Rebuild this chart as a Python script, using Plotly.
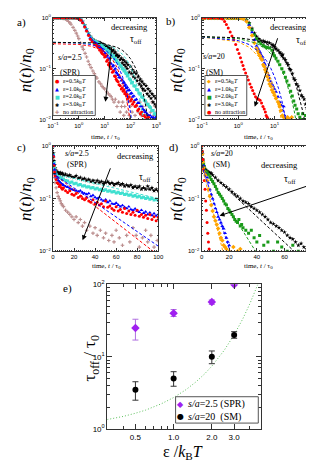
import math
import plotly.graph_objects as go

W, H = 314, 465
SERIF = "Liberation Serif"
SANS = "Liberation Sans"

# ---------------- Panel a: s/a=2.5 (SPR), log-log ----------------
A_EPS05 = [(0.1,1),(0.12,1),(0.15,1),(0.18,1),(0.22,1),(0.27,1),(0.33,1),(0.4,1),(0.5,1),(0.6,1),(0.7,1),(0.85,0.99),(1.0,0.96),(1.2,0.9),(1.4,0.8),(1.7,0.66),(2.0,0.55),(2.4,0.45),(2.8,0.38),(3.3,0.34),(4.0,0.31),
           (4.5,0.3),(5,0.28),(5.5,0.26),(6,0.27),(6.5,0.23),(7,0.24),(7.5,0.21),(8,0.2),(9,0.19),(10,0.17),(11,0.18),(12,0.14),(13,0.15),(14,0.12),(15,0.13),(16,0.11),(18,0.1),(20,0.085),(22,0.09),(24,0.072),(26,0.07),(28,0.062),(30,0.058),(33,0.055),(36,0.048),(40,0.046),(44,0.04),(48,0.042),(52,0.036),(56,0.038),(60,0.032),(65,0.034),(70,0.029),(75,0.031),(80,0.026),(90,0.028),(100,0.023),(110,0.025),(120,0.02),(135,0.022),(150,0.018),(170,0.019),(190,0.015),(210,0.016),(240,0.013),(270,0.014),(300,0.012),(340,0.012),(380,0.011),(430,0.01),(500,0.011)]
A_EPS10 = [(0.1,1),(0.12,1),(0.15,1),(0.18,1),(0.22,1),(0.27,1),(0.33,1),(0.4,1),(0.5,1),(0.6,1),(0.7,1),(0.85,0.99),(1.0,0.97),(1.2,0.91),(1.4,0.82),(1.7,0.68),(2.0,0.57),(2.4,0.47),(2.8,0.4),(3.3,0.36),(4.0,0.33),
           (4.5,0.32),(5,0.31),(5.5,0.29),(6,0.28),(6.5,0.27),(7,0.25),(7.5,0.25),(8,0.23),(9,0.22),(10,0.2),(11,0.2),(12,0.17),(13,0.18),(14,0.15),(15,0.16),(16,0.13),(18,0.125),(20,0.11),(22,0.115),(24,0.095),(26,0.1),(28,0.085),(30,0.08),(33,0.075),(36,0.068),(40,0.066),(44,0.058),(48,0.06),(52,0.052),(56,0.054),(60,0.046),(65,0.048),(70,0.041),(75,0.043),(80,0.037),(90,0.038),(100,0.032),(110,0.033),(120,0.028),(135,0.029),(150,0.024),(170,0.025),(190,0.021),(210,0.021),(240,0.018),(270,0.018),(300,0.016),(340,0.015),(380,0.014),(430,0.013),(500,0.012),(570,0.012),(650,0.011),(750,0.011),(850,0.01),(950,0.011)]
A_EPS20 = [(0.1,1),(0.12,1),(0.15,1),(0.18,1),(0.22,1),(0.27,1),(0.33,1),(0.4,1),(0.5,1),(0.6,1),(0.7,1),(0.85,0.99),(1.0,0.97),(1.2,0.92),(1.4,0.83),(1.7,0.7),(2.0,0.59),(2.4,0.49),(2.8,0.42),(3.3,0.38),(4.0,0.35),
           (4.5,0.34),(5,0.33),(5.5,0.32),(6,0.31),(6.5,0.3),(7,0.29),(7.5,0.28),(8,0.28),(9,0.26),(10,0.25),(11,0.25),(12,0.23),(13,0.23),(14,0.21),(15,0.22),(16,0.2),(18,0.19),(20,0.17),(22,0.18),(24,0.155),(26,0.16),(28,0.14),(30,0.145),(33,0.13),(36,0.125),(40,0.115),(44,0.11),(48,0.1),(52,0.1),(56,0.09),(60,0.092),(65,0.082),(70,0.08),(75,0.072),(80,0.074),(90,0.063),(100,0.06),(110,0.052),(120,0.054),(135,0.046),(150,0.045),(170,0.039),(190,0.038),(210,0.033),(240,0.032),(270,0.028),(300,0.027),(340,0.024),(380,0.023),(430,0.02),(480,0.02),(540,0.018),(600,0.017),(670,0.015),(750,0.015),(830,0.013),(920,0.013),(1000,0.012)]
A_EPS30 = [(0.1,1),(0.12,1),(0.15,1),(0.18,1),(0.22,1),(0.27,1),(0.33,1),(0.4,1),(0.5,1),(0.6,1),(0.7,1),(0.85,1),(1.0,0.98),(1.2,0.93),(1.4,0.85),(1.7,0.72),(2.0,0.6),(2.4,0.5),(2.8,0.43),(3.3,0.39),(4.0,0.36),
           (5,0.34),(5.5,0.33),(6,0.33),(6.5,0.32),(7,0.32),(7.5,0.31),(8,0.3),(9,0.3),(10,0.29),(11,0.28),(12,0.27),(13,0.27),(14,0.25),(15,0.26),(16,0.24),(18,0.23),(20,0.22),(22,0.23),(24,0.2),(26,0.21),(28,0.18),(30,0.19),(33,0.17),(36,0.18),(40,0.15),(44,0.16),(48,0.13),(52,0.15),(56,0.12),(60,0.14),(65,0.11),(70,0.13),(75,0.1),(80,0.12),(90,0.085),(100,0.11),(110,0.08),(120,0.095),(130,0.07),(140,0.085),(150,0.065),(165,0.08),(180,0.058),(200,0.07),(220,0.05),(240,0.062),(260,0.045),(280,0.056),(300,0.04),(330,0.05),(360,0.037),(400,0.046),(440,0.032),(480,0.04),(520,0.029),(570,0.036),(620,0.026),(680,0.032),(740,0.022),(800,0.029),(870,0.02),(940,0.026),(1000,0.018)]
A_NOATT = [(0.1,1),(0.15,1),(0.2,1),(0.25,0.98),(0.3,0.95),(0.35,0.9),(0.4,0.85),(0.45,0.8),(0.5,0.75),(0.6,0.65),(0.7,0.57),(0.8,0.5),(0.9,0.44),(1.0,0.39),(1.17,0.32),(1.35,0.27),(1.5,0.24),(1.75,0.2),(2,0.17),(2.3,0.14),(2.6,0.12),(3,0.105),(3.5,0.09),(4,0.08),(4.5,0.07),(5,0.065),(6,0.055),(7,0.05),(8,0.045),(9,0.042),(10,0.04),(12,0.035),(14,0.032),(16,0.03),(18,0.028),(20,0.025),(23,0.022),(26,0.025),(30,0.018),(35,0.022),(40,0.014),(45,0.018),(50,0.022),(55,0.012),(60,0.018),(70,0.014),(80,0.022),(90,0.012),(100,0.018),(115,0.014),(130,0.022),(150,0.012),(170,0.018),(200,0.014),(230,0.022),(260,0.012),(300,0.018),(350,0.014),(400,0.022),(460,0.012),(530,0.018),(600,0.014),(700,0.022),(800,0.012),(900,0.018),(1000,0.014)]
A_FIT05 = [(0.1,0.31),(1,0.30),(3,0.278),(10,0.217),(20,0.152),(30,0.106),(50,0.052),(70,0.0254),(100,0.0087),(150,0.0015)]
A_FIT10 = [(0.1,0.33),(1,0.32),(3,0.30),(10,0.24),(20,0.175),(30,0.128),(50,0.068),(70,0.036),(100,0.0138),(150,0.0028)]
A_FIT20 = [(0.1,0.33),(1,0.326),(3,0.319),(10,0.296),(20,0.265),(30,0.237),(50,0.19),(70,0.153),(100,0.11),(150,0.064),(200,0.0367),(300,0.0122),(400,0.0041)]
A_FIT30 = [(0.1,0.33),(1,0.328),(3,0.323),(10,0.306),(30,0.264),(50,0.228),(70,0.196),(100,0.157),(150,0.108),(200,0.075),(300,0.036),(400,0.017),(500,0.0081),(700,0.0018)]

# ---------------- Panel b: s/a=20 (SM), log-log ----------------
B_EPS05 = [(0.1,1),(0.12,1),(0.15,1),(0.18,1),(0.22,1),(0.27,1),(0.33,1),(0.4,1),(0.5,1),(0.6,1),(0.7,1),(0.85,1),(1.0,1),(1.2,0.99),(1.4,0.95),
           (1.7,0.85),(2.0,0.65),(2.4,0.45),(2.8,0.32),(3.2,0.25),(3.5,0.22),(3.7,0.2),(4.0,0.18),(4.2,0.16),(4.5,0.15),(4.9,0.12),(5.2,0.11),(5.5,0.095),(5.9,0.085),(6.3,0.07),(6.8,0.06),(7.3,0.05),(7.9,0.045),(8.5,0.038),(9.2,0.034),(10,0.03),(11,0.026),(12.5,0.022),(13.5,0.02),(14,0.018),(15,0.015),(16.5,0.012),(18,0.011),(20,0.01),(23,0.011),(26,0.01),(30,0.011)]
B_EPS10 = [(0.1,1),(0.12,1),(0.15,1),(0.18,1),(0.22,1),(0.27,1),(0.33,1),(0.4,1),(0.5,1),(0.6,1),(0.7,1),(0.85,1),(1.0,1),(1.2,0.99),(1.4,0.96),
           (1.7,0.88),(2.0,0.72),(2.4,0.52),(2.8,0.37),(3.2,0.28),(3.5,0.25),(3.7,0.23),(4.0,0.21),(4.2,0.19),(4.5,0.17),(4.9,0.15),(5.2,0.13),(5.5,0.12),(5.9,0.1),(6.3,0.085),(6.8,0.075),(7.3,0.065),(7.9,0.056),(8.5,0.05),(9.2,0.045),(10,0.04),(11,0.035),(12.5,0.028),(14,0.022),(15.5,0.019),(17,0.015),(18,0.018),(19,0.012),(21,0.01),(23,0.011),(25,0.01)]
B_EPS20 = [(0.1,1),(0.12,1),(0.15,1),(0.18,1),(0.22,1),(0.27,1),(0.33,1),(0.4,1),(0.5,1),(0.6,1),(0.7,1),(0.85,1),(1.0,1),(1.2,0.99),(1.4,0.97),
           (1.7,0.9),(2.0,0.76),(2.4,0.58),(2.8,0.46),(3.2,0.39),(3.7,0.34),(4.2,0.31),(4.9,0.285),(5.5,0.27),(6.3,0.26),(7.3,0.255),(8.5,0.23),(9.2,0.2),(10,0.18),(11,0.16),(12.5,0.14),(14,0.12),(16,0.1),(18,0.085),(20,0.068),(22,0.057),(25,0.047),(28,0.036),(31,0.029),(34,0.023),(37,0.019),(41,0.016),(45,0.013),(50,0.011),(55,0.01),(60,0.013),(66,0.01),(72,0.012),(80,0.01),(90,0.011)]
B_EPS30 = [(0.1,1),(0.12,1),(0.15,1),(0.18,1),(0.22,1),(0.27,1),(0.33,1),(0.4,1),(0.5,1),(0.6,1),(0.7,1),(0.85,1),(1.0,1),(1.2,0.99),(1.4,0.97),
           (1.7,0.92),(2.0,0.8),(2.4,0.62),(2.8,0.5),(3.2,0.43),(3.7,0.39),(4.2,0.36),(4.9,0.35),(5.5,0.34),(6.3,0.33),(7.3,0.32),(8.5,0.3),(9.2,0.29),(10,0.27),(11,0.25),(12.5,0.23),(14,0.21),(15,0.2),(16,0.18),(17,0.19),(18,0.16),(20,0.15),(22,0.13),(24,0.12),(26,0.1),(28,0.095),(31,0.08),(34,0.065),(37,0.06),(41,0.05),(45,0.045),(50,0.037),(55,0.03),(60,0.028),(66,0.025),(72,0.02),(78,0.017),(85,0.015),(92,0.013),(100,0.012)]
B_NOATT = [(0.1,1),(0.12,1),(0.15,1),(0.18,1),(0.22,1),(0.27,1),(0.3,1),(0.33,0.99),(0.37,0.95),(0.42,0.85),(0.47,0.74),(0.53,0.63),(0.6,0.53),(0.67,0.44),(0.75,0.37),(0.85,0.3),(0.95,0.24),(1.05,0.2),(1.15,0.165),(1.25,0.135),(1.35,0.115),(1.45,0.097),(1.6,0.082),(1.75,0.07),(1.9,0.06),(2.1,0.05),(2.3,0.043),(2.5,0.037),(2.75,0.032),(3.0,0.028),(3.3,0.026),(3.6,0.025),(4.0,0.024),(4.4,0.021),(4.8,0.018),(5.2,0.016),(5.6,0.014),(5.9,0.012),(6.3,0.011),(6.8,0.01)]
B_FIT05 = [(0.1,0.42),(1,0.338),(2,0.264),(4,0.162),(6,0.0995),(8,0.061),(10,0.0374),(12,0.023),(14,0.0141),(16,0.0087),(18,0.0053)]
B_FIT10 = [(0.1,0.422),(1,0.358),(2,0.299),(4,0.208),(6,0.144),(8,0.1),(10,0.0697),(13,0.0405),(16,0.0234),(20,0.0113),(24,0.0055)]
B_FIT20 = [(0.1,0.426),(1,0.391),(3,0.322),(6,0.241),(10,0.164),(15,0.102),(20,0.0628),(25,0.0389),(30,0.024),(35,0.0148),(40,0.0092),(50,0.0035)]
B_FIT30 = [(0.1,0.428),(1,0.406),(3,0.363),(6,0.306),(10,0.245),(15,0.185),(20,0.14),(30,0.0796),(40,0.0453),(50,0.0258),(60,0.0147),(70,0.0084),(80,0.0048)]

# ---------------- Panel c: s/a=2.5 (SPR), lin-log ----------------
C_EPS05 = [(0,1),(0.5,0.62),(1,0.42),(1.5,0.32),(2,0.27),(3,0.23),(4,0.2),(5,0.19),(6,0.17),(7,0.18),(8,0.16),(9,0.15),(10,0.16),(12,0.14),(14,0.13),(16,0.14),(18,0.12),(20,0.115),(22,0.125),(24,0.105),(26,0.11),(28,0.1),(30,0.095),(32,0.105),(34,0.09),(36,0.085),(38,0.095),(40,0.08),(42,0.085),(44,0.075),(46,0.08),(48,0.07),(50,0.09),(52,0.068),(54,0.072),(56,0.065),(58,0.06),(60,0.07),(62,0.058),(64,0.062),(66,0.055),(68,0.065),(70,0.052),(72,0.058),(74,0.05),(76,0.055),(78,0.048),(80,0.06),(82,0.046),(84,0.05),(86,0.044),(88,0.048),(90,0.042),(92,0.05),(94,0.04),(96,0.045),(98,0.038),(100,0.044)]
C_EPS10 = [(0,1),(0.5,0.65),(1,0.45),(1.5,0.35),(2,0.3),(3,0.26),(4,0.24),(5,0.22),(6,0.21),(7,0.2),(8,0.19),(9,0.185),(10,0.18),(12,0.17),(14,0.165),(16,0.155),(18,0.15),(20,0.145),(22,0.14),(24,0.135),(26,0.14),(28,0.13),(30,0.125),(32,0.12),(34,0.125),(36,0.11),(38,0.115),(40,0.105),(42,0.1),(44,0.105),(46,0.095),(48,0.09),(50,0.095),(52,0.085),(54,0.09),(56,0.08),(58,0.078),(60,0.082),(62,0.075),(64,0.07),(66,0.074),(68,0.068),(70,0.065),(72,0.07),(74,0.062),(76,0.06),(78,0.064),(80,0.058),(82,0.055),(84,0.06),(86,0.053),(88,0.056),(90,0.05),(92,0.054),(94,0.048),(96,0.052),(98,0.047),(100,0.05)]
C_EPS20 = [(0,1),(0.5,0.68),(1,0.48),(1.5,0.39),(2,0.33),(3,0.29),(4,0.27),(5,0.26),(6,0.25),(7,0.25),(8,0.24),(9,0.23),(10,0.235),(12,0.22),(14,0.215),(16,0.2),(18,0.205),(20,0.19),(22,0.195),(24,0.18),(26,0.185),(28,0.172),(30,0.175),(32,0.165),(34,0.168),(36,0.158),(38,0.162),(40,0.152),(42,0.156),(44,0.147),(46,0.15),(48,0.142),(50,0.146),(52,0.138),(54,0.141),(56,0.133),(58,0.136),(60,0.128),(62,0.131),(64,0.124),(66,0.127),(68,0.119),(70,0.122),(72,0.115),(74,0.118),(76,0.111),(78,0.114),(80,0.107),(82,0.11),(84,0.104),(86,0.106),(88,0.1),(90,0.103),(92,0.097),(94,0.1),(96,0.094),(98,0.097),(100,0.092)]
C_EPS30 = [(0,1),(0.5,0.72),(1,0.52),(1.5,0.43),(2,0.38),(3,0.34),(4,0.32),(5,0.31),(6,0.3),(7,0.31),(8,0.29),(9,0.3),(10,0.28),(12,0.29),(14,0.27),(16,0.28),(18,0.26),(20,0.25),(22,0.27),(24,0.24),(26,0.25),(28,0.23),(30,0.24),(32,0.22),(34,0.23),(36,0.21),(38,0.22),(40,0.2),(42,0.22),(44,0.2),(46,0.21),(48,0.19),(50,0.2),(52,0.21),(54,0.19),(56,0.2),(58,0.18),(60,0.19),(62,0.2),(64,0.18),(66,0.19),(68,0.17),(70,0.18),(72,0.17),(74,0.18),(76,0.16),(78,0.17),(80,0.16),(82,0.17),(84,0.15),(86,0.16),(88,0.15),(90,0.17),(92,0.15),(94,0.16),(96,0.14),(98,0.15),(100,0.14)]
C_NOATT = [(0,1),(0.5,0.6),(1,0.35),(1.5,0.25),(2,0.2),(3,0.16),(4,0.13),(5,0.11),(6,0.1),(7,0.09),(8,0.08),(9,0.075),(10,0.07),(12,0.06),(14,0.055),(16,0.05),(18,0.045),(20,0.04),(22,0.045),(24,0.035),(26,0.04),(28,0.03),(30,0.035),(32,0.025),(35,0.03),(38,0.022),(40,0.028),(42,0.02),(45,0.025),(48,0.018),(50,0.022),(53,0.016),(56,0.02),(58,0.015),(60,0.025),(63,0.018),(66,0.013),(70,0.02),(73,0.015),(76,0.028),(79,0.02),(82,0.012),(85,0.018),(88,0.025),(90,0.015),(93,0.02),(96,0.012),(99,0.016)]
C_FIT05 = [(0,0.3),(100,0.0084)]
C_FIT10 = [(0,0.3),(100,0.0125)]
C_FIT20 = [(0,0.3),(100,0.1)]
C_FIT30 = [(0,0.3),(100,0.14)]

# ---------------- Panel d: s/a=20 (SM), lin-log ----------------
D_EPS05 = [(0,1),(0.5,0.7),(1,0.5),(1.5,0.38),(2,0.33),(3,0.28),(4,0.22),(5,0.15),(6,0.11),(7,0.075),(8,0.058),(9,0.045),(10,0.038),(11,0.032),(12,0.027),(13,0.022),(14,0.018),(15,0.016),(16,0.013),(17,0.012),(18,0.011),(20,0.01),(23,0.012),(26,0.01),(28,0.011)]
D_EPS10 = [(0,1),(0.5,0.75),(1,0.55),(1.5,0.42),(2,0.36),(3,0.3),(4,0.25),(5,0.2),(6,0.15),(7,0.12),(8,0.1),(9,0.08),(10,0.065),(11,0.055),(12,0.045),(13,0.04),(14,0.035),(15,0.03),(16,0.027),(17,0.022),(18,0.018),(19,0.015),(20,0.013)]
D_EPS20 = [(0,1),(0.5,0.75),(1,0.55),(1.5,0.45),(2,0.4),(3,0.35),(4,0.32),(5,0.29),(6,0.26),(7,0.23),(8,0.21),(9,0.19),(10,0.17),(11,0.15),(12,0.13),(13,0.12),(14,0.11),(15,0.1),(16,0.09),(17,0.08),(18,0.075),(19,0.065),(20,0.06),(21,0.055),(22,0.05),(23,0.045),(24,0.04),(25,0.037),(26,0.035),(27,0.04),(28,0.03),(29,0.032),(30,0.028),(32,0.025),(34,0.022),(36,0.025),(38,0.018),(40,0.015),(42,0.02),(45,0.013),(48,0.015),(52,0.01),(55,0.015),(58,0.012),(62,0.01),(66,0.013),(70,0.01)]
D_EPS30 = [(0,1),(0.5,0.7),(1,0.5),(1.5,0.42),(2,0.37),(3,0.34),(4,0.33),(5,0.32),(6,0.31),(7,0.3),(8,0.28),(10,0.25),(12,0.22),(14,0.2),(16,0.18),(18,0.165),(20,0.15),(22,0.135),(24,0.12),(26,0.11),(28,0.1),(30,0.09),(32,0.085),(34,0.08),(36,0.07),(38,0.065),(40,0.06),(42,0.055),(44,0.05),(46,0.045),(48,0.04),(50,0.035),(52,0.033),(54,0.03),(56,0.028),(58,0.025),(60,0.023),(62,0.02),(64,0.018),(66,0.017),(68,0.015),(70,0.013),(72,0.014),(74,0.012),(76,0.011),(78,0.012)]
D_NOATT = [(0,1),(0.5,0.8),(1,0.55),(1.5,0.35),(2,0.22),(2.5,0.15),(3,0.09),(3.5,0.06),(4,0.035),(4.5,0.022),(5,0.015),(5.5,0.011)]
D_FIT05 = [(0,0.43),(18,0.0053)]
D_FIT10 = [(0,0.43),(24,0.0055)]
D_FIT20 = [(0,0.43),(50,0.0035)]
D_FIT30 = [(0,0.43),(80,0.0048)]

# ---------------- Panel e: tau_off vs epsilon ----------------
E_EPS = [0.5, 1.0, 2.0, 3.0]
E_SPR = [25, 40, 57, 100]
E_SPR_UP = [8, 5, 4, 0]
E_SPR_DN = [8, 4, 4, 0]
E_SM = [3.5, 5.0, 10, 20]
E_SM_UP = [1.0, 1.2, 2.0, 2.2]
E_SM_DN = [1.0, 1.1, 2.0, 2.0]
E_CURVE_X = [0.3, 0.4, 0.5, 0.6, 0.8, 1.0, 1.25, 1.5, 1.75, 2.0, 2.5, 3.0, 3.5, 4.0, 4.6]
E_CURVE_Y = [1.35, 1.49, 1.65, 1.82, 2.23, 2.72, 3.49, 4.48, 5.75, 7.39, 12.2, 20.1, 33.1, 54.6, 99.5]

# tick labels
LOG_XT_A = [0.1, 1, 10, 100, 1000]
LOG_XT_A_TXT = ["10<sup>−1</sup>", "10<sup>0</sup>", "10<sup>1</sup>", "10<sup>2</sup>", "10<sup>3</sup>"]
LOG_XT_B = [0.1, 1, 10, 100]
LOG_XT_B_TXT = ["10<sup>−1</sup>", "10<sup>0</sup>", "10<sup>1</sup>", "10<sup>2</sup>"]
NY_T = [0.01, 0.1, 1]
NY_T_TXT = ["10<sup>−2</sup>", "10<sup>−1</sup>", "10<sup>0</sup>"]
C_XT = [0, 20, 40, 60, 80, 100]
D_XT = [0, 20, 40, 60, 80]
E_XT = [0.5, 1.0, 2.0, 3.0]
E_XT_TXT = ["0.5", "1.0", "2.0", "3.0"]
E_YT = [1, 10, 100]
E_YT_TXT = ["10<sup>0</sup>", "10<sup>1</sup>", "10<sup>2</sup>"]

RED, BLUE, CYAN, BLACK, BROWN = "#ff0000", "#0000ff", "#40e0d0", "#000000", "#bc8f8f"
ORANGE, GREEN, PURPLE = "#ffa500", "#1a9a1a", "#a020f0"

def X(p): return p / W
def Y(p): return 1 - p / H

fig = go.Figure()

def pts(pairs, xa, ya, color, symbol, size=3):
    fig.add_trace(go.Scatter(x=[p[0] for p in pairs], y=[p[1] for p in pairs], mode="markers",
                             xaxis=xa, yaxis=ya, showlegend=False,
                             marker=dict(color=color, symbol=symbol, size=size, line=dict(width=0))))

def fit(pairs, xa, ya, color):
    fig.add_trace(go.Scatter(x=[p[0] for p in pairs], y=[p[1] for p in pairs], mode="lines",
                             xaxis=xa, yaxis=ya, showlegend=False,
                             line=dict(color=color, width=1, dash="3px,2px")))

# panel a
pts(A_NOATT, "x", "y", BROWN, "cross", 3)
pts(A_EPS30, "x", "y", BLACK, "star", 3.5)
pts(A_EPS20, "x", "y", CYAN, "square", 3)
pts(A_EPS10, "x", "y", BLUE, "triangle-up", 3.5)
pts(A_EPS05, "x", "y", RED, "circle", 3)
for d, c in [(A_FIT05, RED), (A_FIT10, BLUE), (A_FIT20, CYAN), (A_FIT30, BLACK)]:
    fit(d, "x", "y", c)
# panel b
pts(B_EPS30, "x2", "y2", BLACK, "star", 3.5)
pts(B_EPS20, "x2", "y2", GREEN, "square", 3)
pts(B_EPS10, "x2", "y2", BLUE, "triangle-up", 3.5)
pts(B_EPS05, "x2", "y2", ORANGE, "diamond", 3.5)
pts(B_NOATT, "x2", "y2", RED, "circle", 3)
for d, c in [(B_FIT05, ORANGE), (B_FIT10, BLUE), (B_FIT20, GREEN), (B_FIT30, BLACK)]:
    fit(d, "x2", "y2", c)
# panel c
pts(C_NOATT, "x3", "y3", BROWN, "cross", 3)
pts(C_EPS30, "x3", "y3", BLACK, "star", 3.5)
pts(C_EPS20, "x3", "y3", CYAN, "square", 3)
pts(C_EPS10, "x3", "y3", BLUE, "triangle-up", 3.5)
pts(C_EPS05, "x3", "y3", RED, "circle", 3)
for d, c in [(C_FIT05, RED), (C_FIT10, BLUE), (C_FIT20, CYAN), (C_FIT30, BLACK)]:
    fit(d, "x3", "y3", c)
# panel d
pts(D_EPS30, "x4", "y4", BLACK, "star", 3.5)
pts(D_EPS20, "x4", "y4", GREEN, "square", 3)
pts(D_EPS10, "x4", "y4", BLUE, "triangle-up", 3.5)
pts(D_EPS05, "x4", "y4", ORANGE, "diamond", 3.5)
pts(D_NOATT, "x4", "y4", RED, "circle", 3)
for d, c in [(D_FIT05, ORANGE), (D_FIT10, BLUE), (D_FIT20, GREEN), (D_FIT30, BLACK)]:
    fit(d, "x4", "y4", c)
# panel e
fig.add_trace(go.Scatter(x=E_CURVE_X, y=E_CURVE_Y, mode="lines", xaxis="x5", yaxis="y5", showlegend=False,
                         line=dict(color="#5cbf5c", width=1, dash="1px,2px")))
fig.add_trace(go.Scatter(x=E_EPS, y=E_SPR, mode="markers", xaxis="x5", yaxis="y5", showlegend=False,
                         marker=dict(color=PURPLE, symbol="diamond", size=6.5),
                         error_y=dict(type="data", symmetric=False, array=E_SPR_UP, arrayminus=E_SPR_DN,
                                      color="#b070e0", thickness=1, width=3)))
fig.add_trace(go.Scatter(x=E_EPS, y=E_SM, mode="markers", xaxis="x5", yaxis="y5", showlegend=False,
                         marker=dict(color=BLACK, symbol="circle", size=6),
                         error_y=dict(type="data", symmetric=False, array=E_SM_UP, arrayminus=E_SM_DN,
                                      color="#333", thickness=1, width=3)))

LC = "#333"
def ax(**kw):
    d = dict(showline=True, linecolor=LC, linewidth=1, mirror="allticks", ticks="inside", ticklen=3,
             tickcolor=LC, tickwidth=1, showgrid=False, zeroline=False,
             tickfont=dict(family=SANS, size=6, color="black"))
    d.update(kw)
    return d

minor_log_n = dict(ticks="inside", ticklen=1.5, tickcolor=LC, tickmode="array",
                   tickvals=[k * 10.0 ** e for e in (-2, -1) for k in range(2, 10)])
minor_log_a = dict(ticks="inside", ticklen=1.5, tickcolor=LC, tickmode="array",
                   tickvals=[k * 10.0 ** e for e in (-1, 0, 1, 2) for k in range(2, 10)])
minor_log_b = dict(ticks="inside", ticklen=1.5, tickcolor=LC, tickmode="array",
                   tickvals=[k * 10.0 ** e for e in (-1, 0, 1) for k in range(2, 10)])

fig.update_layout(
    width=W, height=H, margin=dict(l=0, r=0, t=0, b=0),
    paper_bgcolor="white", plot_bgcolor="white",
    xaxis=ax(domain=[X(40.5), X(148)], anchor="y", type="log", range=[-1, 3],
             tickmode="array", tickvals=LOG_XT_A, ticktext=LOG_XT_A_TXT, minor=minor_log_a),
    yaxis=ax(domain=[Y(108), Y(4)], anchor="x", type="log", range=[-2, 0],
             tickmode="array", tickvals=NY_T, ticktext=NY_T_TXT, minor=minor_log_n),
    xaxis2=ax(domain=[X(195.5), X(308.5)], anchor="y2", type="log", range=[-1, 2],
              tickmode="array", tickvals=LOG_XT_B, ticktext=LOG_XT_B_TXT, minor=minor_log_b),
    yaxis2=ax(domain=[Y(108), Y(4)], anchor="x2", type="log", range=[-2, 0],
              tickmode="array", tickvals=NY_T, ticktext=NY_T_TXT, minor=minor_log_n),
    xaxis3=ax(domain=[X(40.5), X(150)], anchor="y3", range=[0, 100],
              tickmode="array", tickvals=C_XT, minor=dict(ticks="inside", ticklen=1.5, tickcolor=LC, dtick=2)),
    yaxis3=ax(domain=[Y(243), Y(135)], anchor="x3", type="log", range=[-2, 0],
              tickmode="array", tickvals=NY_T, ticktext=NY_T_TXT, minor=minor_log_n),
    xaxis4=ax(domain=[X(195), X(310)], anchor="y4", range=[0, 80],
              tickmode="array", tickvals=D_XT, minor=dict(ticks="inside", ticklen=1.5, tickcolor=LC, dtick=2)),
    yaxis4=ax(domain=[Y(243), Y(135)], anchor="x4", type="log", range=[-2, 0],
              tickmode="array", tickvals=NY_T, ticktext=NY_T_TXT, minor=minor_log_n),
    xaxis5=ax(domain=[X(97), X(257)], anchor="y5", type="log", range=[math.log10(0.3), math.log10(4.9)],
              tickmode="array", tickvals=E_XT, ticktext=E_XT_TXT, ticklen=5,
              tickfont=dict(family=SANS, size=8, color="black"),
              minor=dict(ticks="inside", ticklen=3, tickcolor=LC, tickmode="array",
                         tickvals=[0.3, 0.4, 0.6, 0.7, 0.8, 0.9, 4.0])),
    yaxis5=ax(domain=[Y(425), Y(277)], anchor="x5", type="log", range=[0, 2],
              tickmode="array", tickvals=E_YT, ticktext=E_YT_TXT, ticklen=5,
              tickfont=dict(family=SANS, size=8, color="black"),
              minor=dict(ticks="inside", ticklen=3, tickcolor=LC, tickmode="array",
                         tickvals=[k * 10.0 ** e for e in (0, 1) for k in range(2, 10)])),
)

anns = []
shapes = []

def txt(x, y, text, size=9, xanchor="center", yanchor="middle", color="black", angle=0, family=SERIF):
    anns.append(dict(x=X(x), y=Y(y), xref="paper", yref="paper", text=text, showarrow=False,
                     xanchor=xanchor, yanchor=yanchor, textangle=angle,
                     font=dict(family=family, size=size, color=color)))

def arrow(hx, hy, tx, ty):
    anns.append(dict(x=X(hx), y=Y(hy), xref="paper", yref="paper", text="", showarrow=True,
                     axref="pixel", ayref="pixel", ax=tx - hx, ay=ty - hy,
                     arrowhead=2, arrowsize=1, arrowwidth=1, arrowcolor="black"))

# panel labels
for lab, x, y in [("a)", 8, 9), ("b)", 163, 8), ("c)", 8, 137), ("d)", 166, 137), ("e)", 56, 281)]:
    txt(x, y, lab, size=11)

NLAB = "<i>n</i>(<i>t</i>)/<i>n</i><sub>0</sub>"
for x, y in [(13, 58), (170, 58), (13, 190), (170, 190)]:
    txt(x, y, NLAB, size=17, angle=-90)

TLAB = "time, <i>t</i> / τ<sub>0</sub>"
for x, y in [(95, 126), (254, 126), (96, 258), (254, 258)]:
    txt(x, y, TLAB, size=7)

# in-panel texts
for x, y, t in [(58, 45, "<i>s/a</i>=2.5"), (58, 60, "(SPR)"), (208, 44, "<i>s/a</i>=20"), (208, 60, "(SM)"),
                (65, 143, "<i>s/a</i>=2.5"), (65, 154, "(SPR)"), (216, 143, "<i>s/a</i>=20"), (216, 154, "(SM)")]:
    txt(x, y, t, size=8)
for x, y in [(120, 13), (285, 13), (126, 145), (276, 155)]:
    txt(x, y, "decreasing", size=8.5)
for x, y in [(127, 26), (299, 27), (136, 167), (287, 170)]:
    txt(x, y, "τ<sub>off</sub>", size=9.5)
arrow(95, 90, 101.7, 33)
arrow(250.3, 95, 273.7, 25)
arrow(71.3, 231.7, 99.7, 158.3)
arrow(213.7, 206.7, 302, 176.7)

# legend boxes
def box(x0, y0, x1, y1):
    shapes.append(dict(type="rect", xref="paper", yref="paper", x0=X(x0), x1=X(x1), y0=Y(y1), y1=Y(y0),
                       line=dict(color="#555", width=1), fillcolor="white", layer="above"))

EPS_TXT = ["ε=0.5<i>k</i><sub>B</sub><i>T</i>", "ε=1.0<i>k</i><sub>B</sub><i>T</i>",
           "ε=2.0<i>k</i><sub>B</sub><i>T</i>", "ε=3.0<i>k</i><sub>B</sub><i>T</i>", "no attraction"]
box(40.5, 63, 84.5, 104)
for (sym, col), lab, y in zip([("●", RED), ("▲", BLUE), ("■", CYAN), ("✱", BLACK), ("✚", BROWN)], EPS_TXT,
                              [69, 77, 85, 92.7, 100.2]):
    txt(45, y, sym, size=5, color=col, family="DejaVu Sans")
    txt(49, y, lab, size=6, xanchor="left")
box(198.5, 63, 242, 104)
for (sym, col), lab, y in zip([("◆", ORANGE), ("▲", BLUE), ("■", GREEN), ("✱", BLACK), ("●", RED)], EPS_TXT,
                              [69, 77, 85, 92.7, 100.2]):
    txt(203, y, sym, size=5, color=col, family="DejaVu Sans")
    txt(207, y, lab, size=6, xanchor="left")

# panel e texts
txt(80, 352, "τ<sub>off</sub> / τ<sub>0</sub>", size=17, angle=-90)
txt(176, 449, "ε /<i>k</i><sub>B</sub><i>T</i>", size=16)
box(168, 392, 254, 419)
txt(173, 399.5, "◆", size=8, color=PURPLE, family="DejaVu Sans")
txt(179, 399.5, "<i>s/a</i>=2.5\u00a0(SPR)", size=10, xanchor="left")
txt(173, 412.5, "●", size=8, color=BLACK, family="DejaVu Sans")
txt(179, 412.5, "<i>s/a</i>=20\u00a0\u00a0(SM)", size=10, xanchor="left")

fig.update_layout(annotations=anns, shapes=shapes)
fig.write_html("out.html")
